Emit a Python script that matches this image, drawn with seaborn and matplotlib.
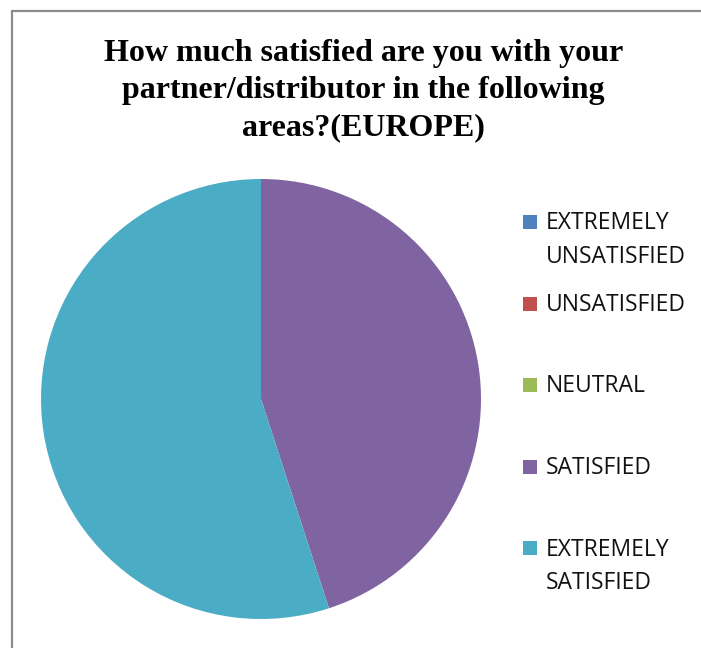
import matplotlib
matplotlib.use("Agg")
import matplotlib.pyplot as plt
from matplotlib.patches import Rectangle
from matplotlib.lines import Line2D
import seaborn as sns

sns.set_theme(style="white")

# Survey answers (share of respondents, %)
categories = ["EXTREMELY\nUNSATISFIED", "UNSATISFIED", "NEUTRAL", "SATISFIED", "EXTREMELY\nSATISFIED"]
values = [0, 0, 0, 45, 55]
colors = ["#4F81BD", "#C0504D", "#9BBB59", "#8064A2", "#4BACC6"]
title = "How much satisfied are you with your\npartner/distributor in the following\nareas?(EUROPE)"

W, H = 701, 648
fig = plt.figure(figsize=(W / 100, H / 100), dpi=100)
fig.patch.set_facecolor("white")

# chart frame (left and top edges visible)
fig.add_artist(Line2D([11.5 / W, 11.5 / W], [0, 1 - 10.5 / H], color="#8c8c8c", lw=1.6))
fig.add_artist(Line2D([11.5 / W, 1], [1 - 10.5 / H, 1 - 10.5 / H], color="#8c8c8c", lw=1.6))

cx, cy, r = 261, 399, 220
ax = fig.add_axes([(cx - r) / W, (H - cy - r) / H, 2 * r / W, 2 * r / H])
ax.pie(values, colors=colors, startangle=90, counterclock=False,
       wedgeprops=dict(linewidth=0))
ax.set_xlim(-1, 1)
ax.set_ylim(-1, 1)
ax.set_aspect("equal")
ax.axis("off")

fig.text(363.5 / W, 1 - 38.5 / H, title, ha="center", va="top",
         family="Liberation Serif", fontweight="bold", fontsize=23,
         linespacing=1.38, color="black")

# legend
lx, ly0, step = 523, 215, 81.5
for i, (lab, col) in enumerate(zip(categories, colors)):
    y = ly0 + i * step
    fig.add_artist(Rectangle((lx / W, 1 - (y + 14) / H), 14 / W, 14 / H,
                             facecolor=col, edgecolor="none"))
    fig.text(546 / W, 1 - (y - 3.5) / H, lab, ha="left", va="top",
             family="Open Sans", fontsize=16.5, color="#111111", linespacing=1.55)

fig.savefig("out.png", dpi=100, facecolor="white")
